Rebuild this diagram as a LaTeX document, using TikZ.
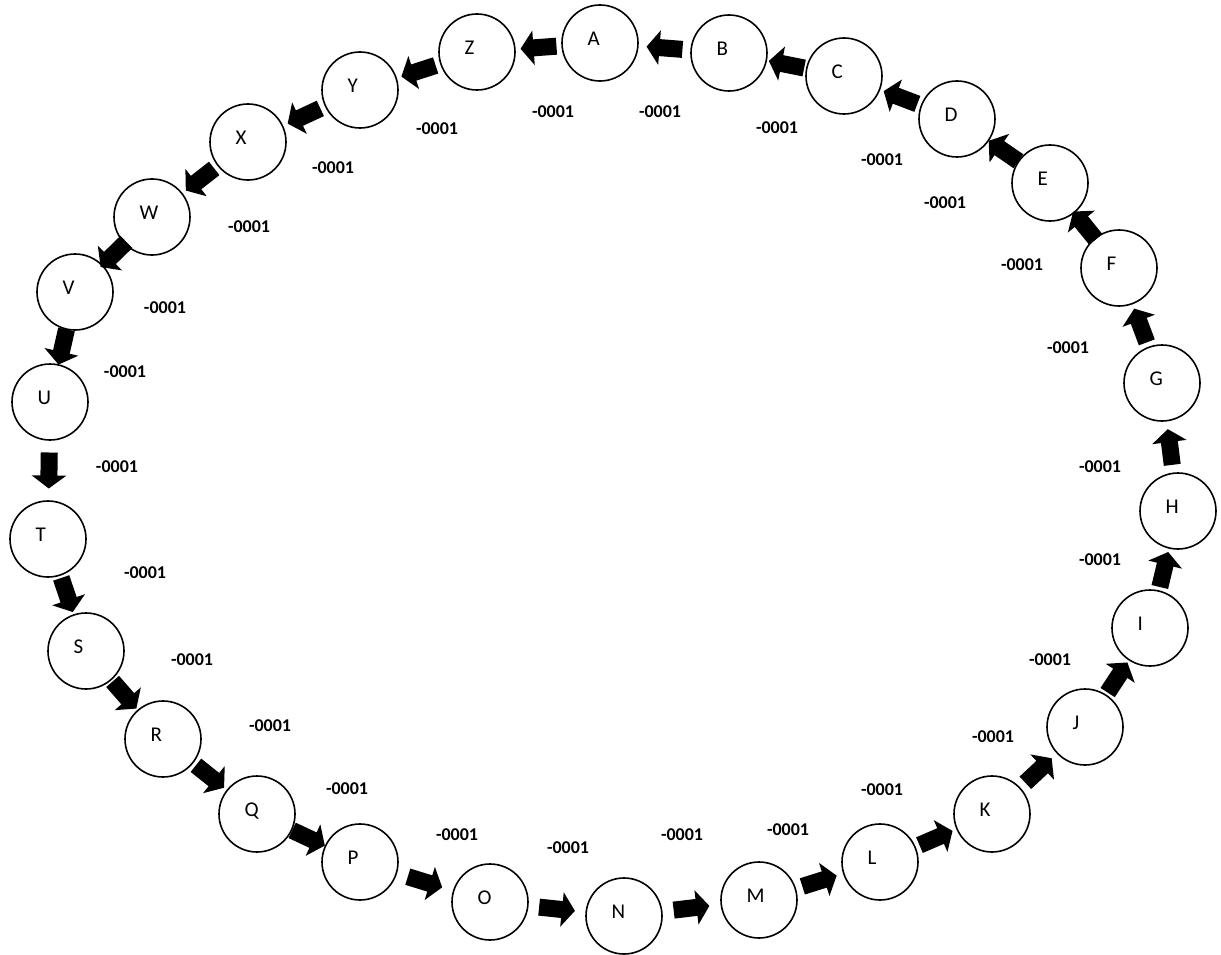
\documentclass[tikz,border=0pt]{standalone}
\usepackage{fontspec}
\setmainfont{Carlito}
\usepackage{tikz}
\usetikzlibrary{shapes, arrows.meta, positioning, calc}

\tikzset{
  letter/.style={circle, draw, line width=1.6pt, minimum size=76pt, inner sep=0pt,
    font=\fontsize{21}{21}\selectfont, text width=25pt, align=left,
    text height=14pt, text depth=9pt},
  fatarrow/.style={line width=17pt, -{Triangle[length=13pt, width=34pt]}},
  weight/.style={font=\fontsize{18}{18}\selectfont\bfseries}
}

\begin{document}
\begin{tikzpicture}[x=1pt, y=-1pt]
    \useasboundingbox (0,0) rectangle (1221,955);
    % the ring of letters
    \foreach \n/\x/\y in {A/600/43, B/729/53, C/844/76, D/957/119, E/1050/183,
        F/1119/268, G/1162/383, H/1178/511, I/1150/628, J/1085/727, K/992/814,
        L/880/862, M/759/900, N/624/916, O/490/902, P/360/862, Q/257/814,
        R/163/739, S/86/651, T/48/539, U/50/402, V/75/292, W/152/217,
        X/248/142, Y/360/90, Z/477/52}
        \node[letter] (\n) at (\x,\y) {\n};
    % weights
    \foreach \k/\x/\y in {1/437/129, 2/553/112, 3/660/112, 4/777/128, 5/882/160,
        6/945/203, 7/1022/265, 8/1068/348, 9/1100/467, 10/1100/560, 11/1050/660,
        12/993/737, 13/882/790, 14/788/830, 15/682/835, 16/568/848, 17/457/835,
        18/347/789, 19/270/726, 20/192/660, 21/145/573, 22/117/467, 23/125/372,
        24/165/308, 25/249/227, 26/333/168}
        \node[weight] (w\k) at (\x,\y) {-0001};
    % block arrows between neighbours
    \foreach \a/\b in {A/Z, Z/Y, Y/X, X/W, W/V, V/U, U/T, T/S, S/R, R/Q, Q/P,
        P/O, O/N, N/M, M/L, L/K, K/J, J/I, I/H, H/G, G/F, F/E, E/D, D/C, C/B, B/A}
        \draw[fatarrow] ($(\a)!.5!(\b)!18pt!(\a)$) -- ($(\a)!.5!(\b)!18pt!(\b)$);
\end{tikzpicture}
\end{document}
